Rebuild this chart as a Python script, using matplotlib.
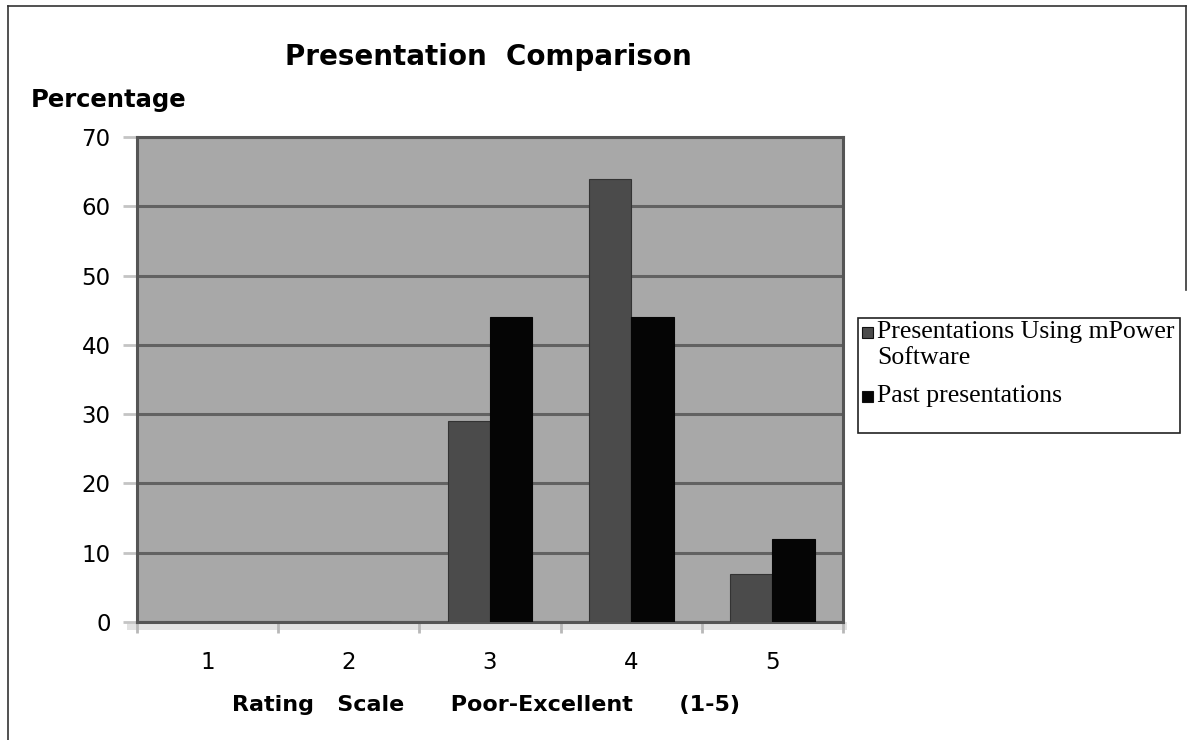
import numpy as np
import matplotlib
matplotlib.use("Agg")
import matplotlib.pyplot as plt
from matplotlib.patches import Rectangle
from matplotlib.lines import Line2D

# survey results, percent of responses per rating
ratings = [1, 2, 3, 4, 5]
mpower_pct = [0, 0, 29, 64, 7]
past_pct = [0, 0, 44, 44, 12]
series_names = ["Presentations Using mPower\nSoftware", "Past presentations"]
series_colors = ['#4b4b4b', '#050505']
y_ticks = [0, 10, 20, 30, 40, 50, 60, 70]

plt.rcParams['font.family'] = ['DejaVu Sans']

W, H = 1188, 740
fig = plt.figure(figsize=(W / 100, H / 100), dpi=100)
ax = fig.add_axes([137 / W, 1 - 622 / H, 706 / W, 485 / H])

x = np.array(ratings, dtype=float)
w = 0.3
ax.bar(x - w / 2, mpower_pct, width=w, color=series_colors[0], edgecolor='#333333',
       linewidth=0.8, zorder=3)
ax.bar(x + w / 2, past_pct, width=w, color=series_colors[1], edgecolor=series_colors[1],
       linewidth=0.8, zorder=3)

ax.set_facecolor('#a8a8a8')
ax.set_xlim(0.5, 5.5)
ax.set_ylim(0, 70)
ax.set_yticks(y_ticks)
ax.yaxis.grid(True, color='#626262', linewidth=2.2, zorder=1)
ax.set_axisbelow(True)
for s in ax.spines.values():
    s.set_color('#555555')
    s.set_linewidth(2.2)

ax.set_xticks(ratings)
ax.set_xticks(np.arange(0.5, 6.0, 1.0), minor=True)
ax.tick_params(axis='x', which='major', length=0, pad=21, labelsize=16.5)
ax.tick_params(axis='x', which='minor', length=8, width=2, color='#b8b8b8', direction='out')
ax.tick_params(axis='y', length=10, width=2, color='#c4c4c4', pad=9, labelsize=16.5)

# light floor strip under the plot area
ax.add_patch(Rectangle((-0.014, -0.017), 1.02, 0.017, transform=ax.transAxes,
                       facecolor='#e2e2e2', edgecolor='none', clip_on=False, zorder=0))

fig.text(488 / W, 1 - 57 / H, "Presentation  Comparison", ha='center', va='center',
         fontsize=20, fontweight='bold')
fig.text(31 / W, 1 - 100 / H, "Percentage", ha='left', va='center',
         fontsize=17.5, fontweight='bold')
fig.text(232 / W, 1 - 705 / H, "Rating   Scale      Poor-Excellent      (1-5)",
         ha='left', va='center', fontsize=16, fontweight='bold')

# legend box, drawn by hand so the swatch sits on the first text line
fig.add_artist(Rectangle((858 / W, 1 - 433 / H), 322 / W, 115 / H,
                         transform=fig.transFigure, facecolor='white',
                         edgecolor='#222222', linewidth=1.2))
for name, color, ytop in zip(series_names, series_colors, [325, 389]):
    fig.add_artist(Rectangle((862 / W, 1 - (ytop + 13) / H), 11 / W, 11 / H,
                             transform=fig.transFigure, facecolor=color,
                             edgecolor='#111111', linewidth=0.8))
    fig.text(877 / W, 1 - (ytop - 4) / H, name, ha='left', va='top',
             family='Liberation Serif', fontsize=18.5, linespacing=1.25)

# page border
for (x0, y0, x1, y1) in [(8, 6, 8, 740), (8, 6, 1186, 6), (1186, 6, 1186, 290)]:
    fig.add_artist(Line2D([x0 / W, x1 / W], [1 - y0 / H, 1 - y1 / H],
                          transform=fig.transFigure, color='#333333', linewidth=1.2))

fig.savefig('out.png', dpi=100, facecolor='white')
